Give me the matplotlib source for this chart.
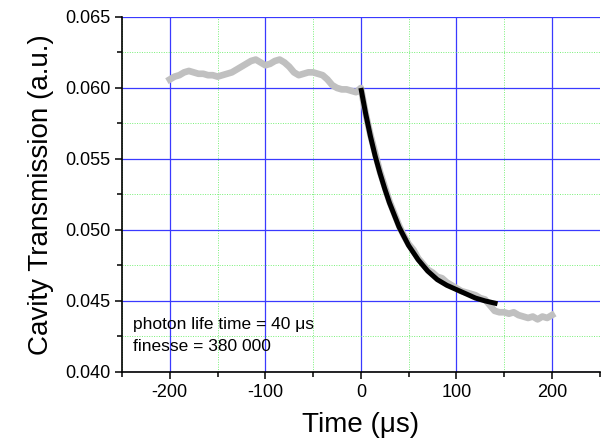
import numpy as np
import matplotlib
matplotlib.use('Agg')
from matplotlib import pyplot as plt
from matplotlib.ticker import MultipleLocator

plt.rcParams['font.family'] = ['Liberation Sans', 'DejaVu Sans']
plt.rcParams['axes.unicode_minus'] = False

t_meas = [-200, -195, -190, -185, -180, -175, -170, -165, -160, -155, -150,
          -145, -140, -135, -130, -125, -120, -115, -110, -105, -100,
          -95, -90, -85, -80, -75, -70, -65, -60, -55, -50,
          -45, -40, -35, -30, -25, -20, -15, -10, -5, 0,
          5, 10, 20, 30, 40, 45, 50, 55, 60, 65, 70, 75, 80, 85, 90, 95, 100,
          105, 110, 115, 120, 125, 130, 135, 140, 145, 150, 155, 160, 165,
          170, 175, 180, 185, 190, 195, 200]
y_meas = [0.0606, 0.0608, 0.0609, 0.0611, 0.0612, 0.0611, 0.0610, 0.0610, 0.0609, 0.0609, 0.0608,
          0.0609, 0.0610, 0.0611, 0.0613, 0.0615, 0.0617, 0.0619, 0.0620, 0.0618, 0.0616,
          0.0617, 0.0619, 0.0620, 0.0618, 0.0615, 0.0611, 0.0609, 0.0610, 0.0611, 0.0611,
          0.0610, 0.0609, 0.0606, 0.0602, 0.0600, 0.0599, 0.0599, 0.0598, 0.0597, 0.0600,
          0.0582, 0.0567, 0.0541, 0.0520, 0.0503, 0.0496, 0.0490, 0.0486, 0.0480, 0.0476,
          0.0472, 0.0470, 0.0467, 0.0466, 0.0463, 0.0461, 0.0459,
          0.0457, 0.0456, 0.0455, 0.0454, 0.0452, 0.0451, 0.0447, 0.0443, 0.0442, 0.0442,
          0.0441, 0.0442, 0.0440, 0.0439, 0.0438, 0.0439, 0.0437, 0.0439, 0.0438, 0.0440]

# exponential fit (black curve)
t_fit = [0, 5, 10, 15, 20, 25, 30, 40, 50, 60, 70, 80, 90, 100, 110, 120, 130, 143]
y_fit = [0.0600, 0.0582, 0.0566, 0.0552, 0.0540, 0.0529, 0.0519, 0.0502, 0.0489,
         0.0479, 0.0471, 0.0465, 0.0461, 0.0458, 0.0455, 0.0452, 0.0450, 0.0448]

note_lines = ['photon life time = 40 \u03bcs', 'finesse = 380 000']

fig = plt.figure(figsize=(6.07, 4.47), dpi=100)
ax = fig.add_axes([0.201, 0.168, 0.787, 0.794])

ax.plot(t_meas, y_meas, color='#c0c0c0', lw=4.8, solid_joinstyle='round', zorder=3)
ax.plot(t_fit, y_fit, color='black', lw=3.6, solid_capstyle='butt', zorder=4)

ax.set_xlim(-250, 250)
ax.set_ylim(0.040, 0.065)
ax.xaxis.set_major_locator(MultipleLocator(100))
ax.xaxis.set_minor_locator(MultipleLocator(50))
ax.yaxis.set_major_locator(MultipleLocator(0.005))
ax.yaxis.set_minor_locator(MultipleLocator(0.0025))
ax.yaxis.set_major_formatter(matplotlib.ticker.FormatStrFormatter('%.3f'))

ax.grid(which='major', color='#3a3aff', lw=0.9, zorder=1)
ax.grid(which='minor', color='#77f077', lw=0.7, ls=(0, (1, 1.5)), zorder=1)

for s in ['top', 'right']:
    ax.spines[s].set_visible(False)
for s in ['left', 'bottom']:
    ax.spines[s].set_linewidth(1.2)

ax.tick_params(which='major', direction='out', length=5, width=1.1, labelsize=13)
ax.tick_params(which='minor', direction='out', length=3.5, width=1.1)

ax.set_xlabel('Time (\u03bcs)', fontsize=20, labelpad=8)
ax.set_ylabel('Cavity Transmission (a.u.)', fontsize=20, labelpad=8)

ax.text(-238, 0.04303, note_lines[0], fontsize=12.5, va='baseline', zorder=5)
ax.text(-238, 0.04148, note_lines[1], fontsize=12.5, va='baseline', zorder=5)

fig.savefig('out.png', dpi=100)
